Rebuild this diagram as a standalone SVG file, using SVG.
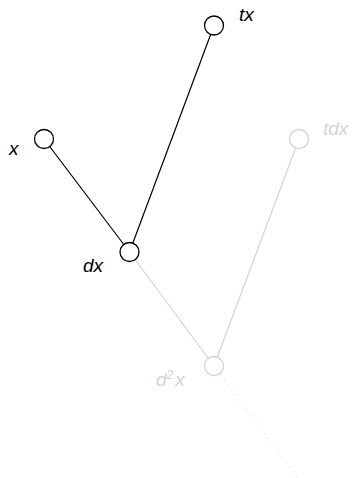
<svg xmlns="http://www.w3.org/2000/svg" width="352" height="478" viewBox="0 0 352 478">
<style>
.lbl{font-family:"Liberation Sans",Arial,sans-serif;font-style:italic;font-size:19px}
.dark{fill:#000}
.light{fill:#d4d4d4}
.n{fill:#fff;stroke-width:1.3}
.nd{stroke:#000}
.nl{stroke:#d4d4d4}
</style>
<rect width="352" height="478" fill="#fff"/>
<g id="connectors" fill="none">
<line x1="44" y1="139" x2="129.5" y2="252" stroke="#000" stroke-width="1.2"/>
<line x1="214" y1="25.5" x2="129.5" y2="252" stroke="#000" stroke-width="1.2"/>
<line x1="129.5" y1="252" x2="214" y2="366" stroke="#d4d4d4" stroke-width="1.2"/>
<line x1="299" y1="139" x2="214" y2="366" stroke="#d4d4d4" stroke-width="1.2"/>
<line x1="221" y1="375.5" x2="298" y2="478" stroke="#d4d4d4" stroke-width="1" stroke-dasharray="1 5"/>
</g>
<g id="node-tx"><circle class="n nd" cx="214" cy="25.5" r="9.5"/><text class="lbl dark" x="239" y="21">tx</text></g>
<g id="node-x"><circle class="n nd" cx="44" cy="139" r="9.5"/><text class="lbl dark" x="9" y="155">x</text></g>
<g id="node-tdx"><circle class="n nl" cx="299" cy="139" r="9.5"/><text class="lbl light" x="323" y="135">tdx</text></g>
<g id="node-dx"><circle class="n nd" cx="129.5" cy="252" r="9.5"/><text class="lbl dark" x="83" y="272">dx</text></g>
<g id="node-d2x"><circle class="n nl" cx="214" cy="366" r="9.5"/><text class="lbl light" x="156" y="386">d<tspan font-size="12" dy="-7">2</tspan><tspan dy="7" dx="2">x</tspan></text></g>
</svg>
